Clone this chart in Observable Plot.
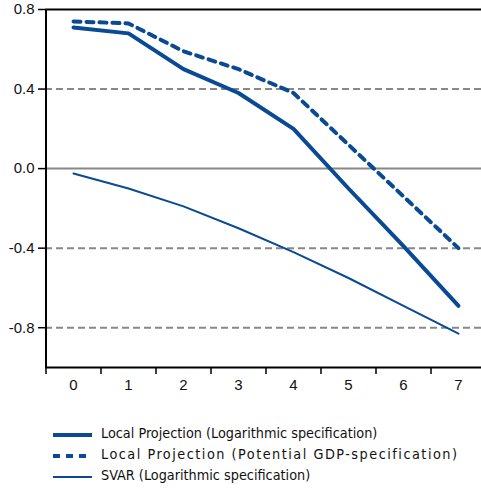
<!DOCTYPE html>
<html><head><meta charset="utf-8">
<script src="https://cdn.jsdelivr.net/npm/d3@7"></script>
<script src="https://cdn.jsdelivr.net/npm/@observablehq/plot@0.6"></script>
<style>
html,body{margin:0;padding:0;background:#fff;overflow:hidden;width:481px;height:494px}
#legend{position:absolute;left:0;top:424px;font-family:"DejaVu Sans Condensed","DejaVu Sans",sans-serif;font-size:14.3px;color:#111}
.row{position:absolute;left:0;height:20px;white-space:nowrap}
.row svg{position:absolute;left:53px;top:0}
.row span{position:absolute;left:101px;top:1px}
</style></head>
<body>
<div id="chart"></div>
<div id="legend"></div>
<script>
const horizons = [0, 1, 2, 3, 4, 5, 6, 7];
const lpLog = [0.71, 0.68, 0.50, 0.38, 0.20, -0.10, -0.39, -0.69];
const lpPot = [0.74, 0.73, 0.59, 0.50, 0.38, 0.12, -0.14, -0.40];
const svar = [-0.025, -0.10, -0.19, -0.30, -0.42, -0.55, -0.69, -0.83];
const yTicks = [-0.8, -0.4, 0.0, 0.4, 0.8];
const dashedGrid = [0.4, -0.4, -0.8];
const seriesNames = [
  "Local Projection (Logarithmic specification)",
  "Local Projection (Potential GDP-specification)",
  "SVAR (Logarithmic specification)"
];
const blue = "#0a4a94";

const rows = (vals) => horizons.map((h, i) => ({h, v: vals[i]}));
const halfTicks = horizons.map(h => h - 0.5);

const chart = Plot.plot({
  width: 481,
  height: 400,
  marginLeft: 45,
  marginRight: 0,
  marginTop: 9,
  marginBottom: 33,
  x: {type: "linear", domain: [-0.5, 7.5], range: [45.5, 485.5]},
  y: {domain: [-1.0, 0.8], range: [367, 9]},
  style: {fontFamily: "'Liberation Sans Narrow','Liberation Sans',Arial,sans-serif", fontSize: "15px", color: "#111"},
  marks: [
    Plot.ruleY(dashedGrid, {stroke: "#888", strokeWidth: 2, strokeDasharray: "7,4"}),
    Plot.ruleY([0], {stroke: "#888", strokeWidth: 2}),
    Plot.ruleY([0.8], {stroke: "#000", strokeWidth: 2}),
    Plot.ruleY([-1.0], {stroke: "#000", strokeWidth: 2}),
    Plot.ruleX([-0.5], {stroke: "#000", strokeWidth: 2}),
    Plot.axisY({ticks: yTicks, tickSize: 7, tickPadding: 4, tickFormat: d => d.toFixed(1), label: null, stroke: "#000", strokeWidth: 1.5, fontSize: 15}),
    Plot.axisX({ticks: halfTicks, tickSize: 7, tickFormat: () => "", label: null, stroke: "#000", strokeWidth: 1.5}),
    Plot.axisX({ticks: horizons, tickSize: 0, tickPadding: 12, tickFormat: d => String(d), label: null, fontSize: 15}),
    Plot.line(rows(svar), {x: "h", y: "v", stroke: blue, strokeWidth: 2}),
    Plot.line(rows(lpPot), {x: "h", y: "v", stroke: blue, strokeWidth: 4, strokeDasharray: "7,6"}),
    Plot.line(rows(lpLog), {x: "h", y: "v", stroke: blue, strokeWidth: 4})
  ]
});
document.getElementById("chart").appendChild(chart);

const legend = document.getElementById("legend");
const styles = [
  {w: 4, dash: null, spacing: "0px"},
  {w: 4, dash: "7,6", spacing: "1.5px"},
  {w: 2, dash: null, spacing: "0px"}
];
seriesNames.forEach((name, i) => {
  const row = document.createElement("div");
  row.className = "row";
  row.style.top = (i * 21) + "px";
  const s = styles[i];
  row.innerHTML = `<svg width="40" height="20"><line x1="0" x2="39" y1="11" y2="11" stroke="${blue}" stroke-width="${s.w}" ${s.dash ? `stroke-dasharray="${s.dash}"` : ""}/></svg><span style="letter-spacing:${s.spacing}">${name}</span>`;
  legend.appendChild(row);
});
</script>
</body></html>
